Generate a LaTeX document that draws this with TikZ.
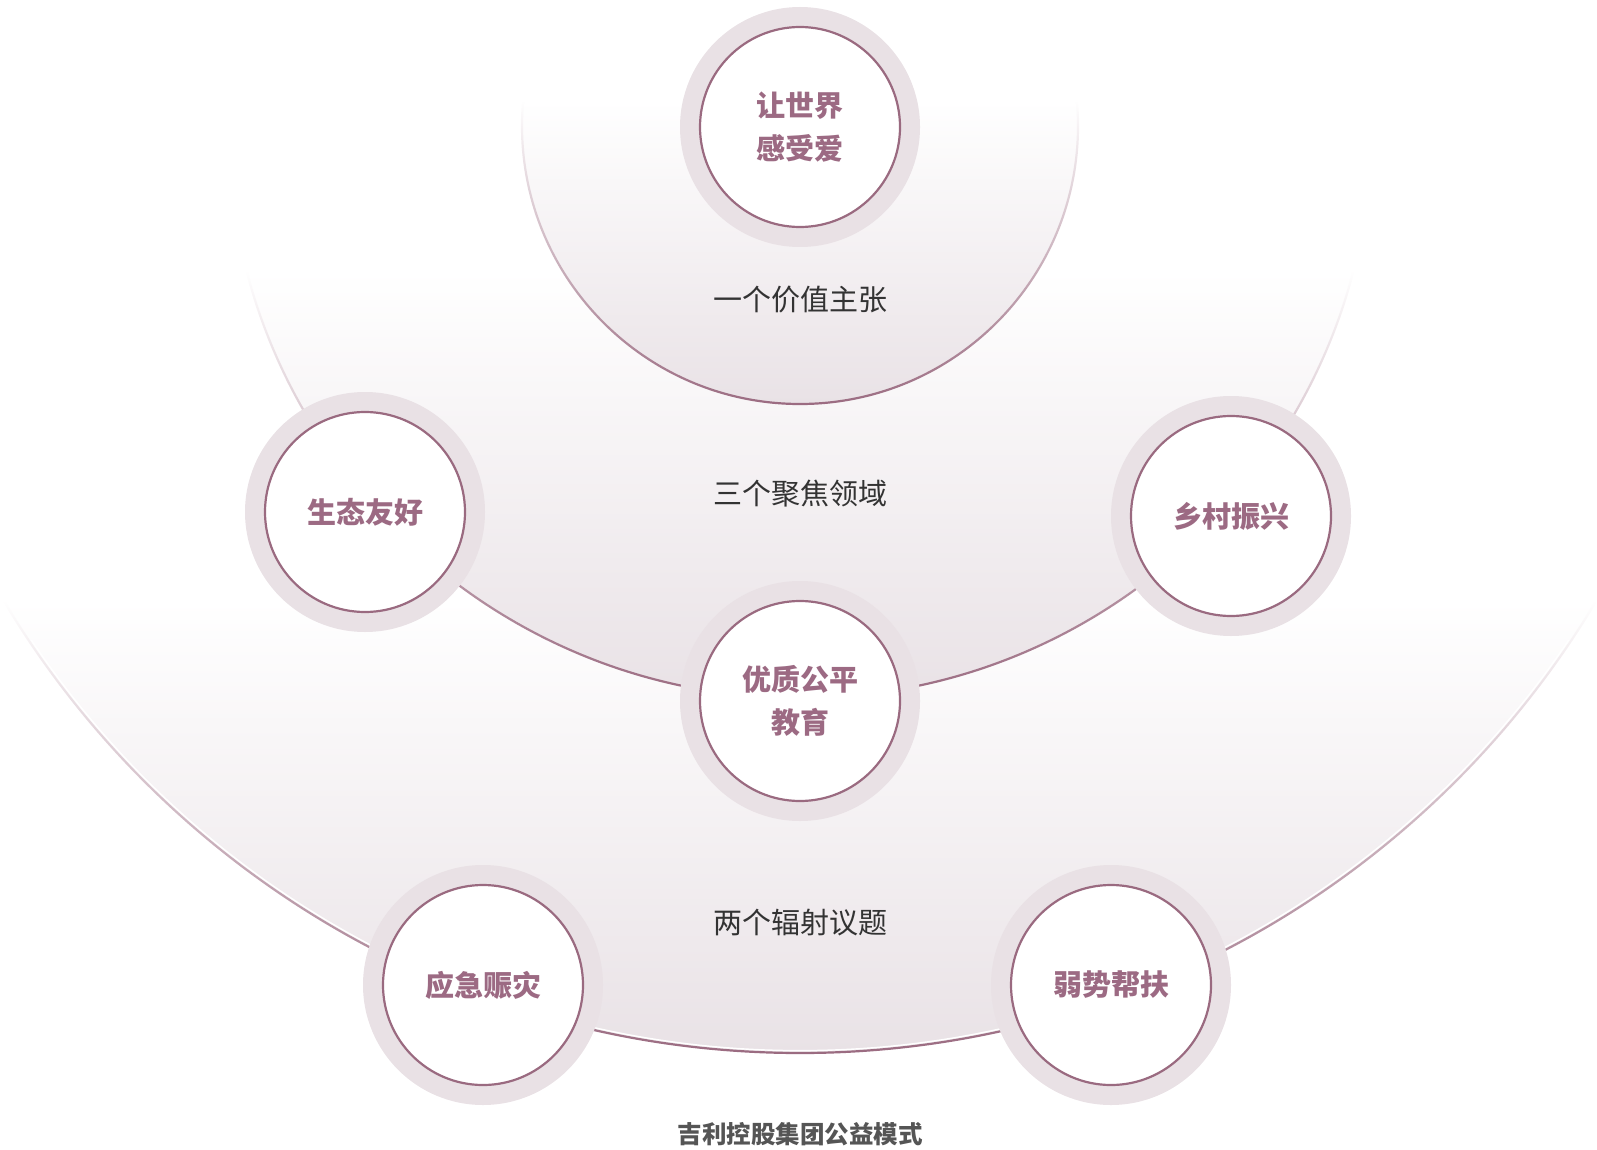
\documentclass[tikz,border=0pt]{standalone}
\usepackage{fontspec}
\newfontfamily\cjk{Noto Sans CJK SC}
\definecolor{mauve}{HTML}{9A6A80}
\definecolor{labelc}{HTML}{9C6A83}
\definecolor{haloc}{HTML}{E9E1E5}
\definecolor{fillc}{HTML}{E9E2E6}
\definecolor{darktext}{HTML}{333333}
\definecolor{titletext}{HTML}{555555}
\tikzset{
  halo/.style={circle, fill=haloc, minimum size=240pt, inner sep=0pt},
  bubble/.style={circle, draw=mauve, line width=2.2pt, fill=white, minimum size=200pt, inner sep=0pt,
    align=center, text=labelc, font=\cjk\bfseries\fontsize{29}{43}\selectfont},
  tierlabel/.style={text=darktext, font=\cjk\fontsize{29}{36}\selectfont},
  titlelabel/.style={text=titletext, font=\cjk\bfseries\fontsize{24.5}{30}\selectfont}
}
% #1 radius, #2 top of gradient
\newcommand{\tiershape}[2]{%
  \begin{scope}
    \clip (800,126) circle (#1);
    \shade[top color=white, bottom color=fillc] (800-#1,#2) rectangle (800+#1,126+#1);
  \end{scope}
  \begin{scope}
    \clip (800-#1-4,#2) rectangle (800+#1+4,126+#1+4);
    \clip (800+#1+1.1,126) arc[start angle=0, end angle=360, radius=#1+1.1]
      -- (800+#1-1.1,126) arc[start angle=0, end angle=-360, radius=#1-1.1] -- cycle;
    \shade[top color=white, bottom color=mauve] (800-#1-4,#2) rectangle (800+#1+4,126+#1+4);
  \end{scope}
}
\begin{document}
\begin{tikzpicture}[x=1pt, y=-1pt]
\useasboundingbox (0,0) rectangle (1597,1150);
\begin{scope}
\clip (0,0) rectangle (1597,1150);
% outer tier
\tiershape{927}{600}
\begin{scope}
  \clip (0,640) rectangle (1597,1150);
  \draw[white, line width=1.4pt] (800,126) circle (924.6);
\end{scope}
% middle tier
\tiershape{572}{270}
% inner tier
\tiershape{278}{100}
\end{scope}

% tier labels
\node[tierlabel] (t1) at (800,300) {一个价值主张};
\node[tierlabel] (t2) at (800,494) {三个聚焦领域};
\node[tierlabel] (t3) at (800,923) {两个辐射议题};

% bubbles
\node[halo] (h1) at (800,127) {};
\node[bubble] (b1) at (h1) {让世界\\感受爱};
\node[halo] (h2) at (365,512) {};
\node[bubble] (b2) at (h2) {生态友好};
\node[halo] (h3) at (1231,516) {};
\node[bubble] (b3) at (h3) {乡村振兴};
\node[halo] (h4) at (800,701) {};
\node[bubble] (b4) at (h4) {优质公平\\教育};
\node[halo] (h5) at (483,985) {};
\node[bubble] (b5) at (h5) {应急赈灾};
\node[halo] (h6) at (1111,985) {};
\node[bubble] (b6) at (h6) {弱势帮扶};

\node[titlelabel] (title) at (800,1134) {吉利控股集团公益模式};
\end{tikzpicture}
\end{document}
